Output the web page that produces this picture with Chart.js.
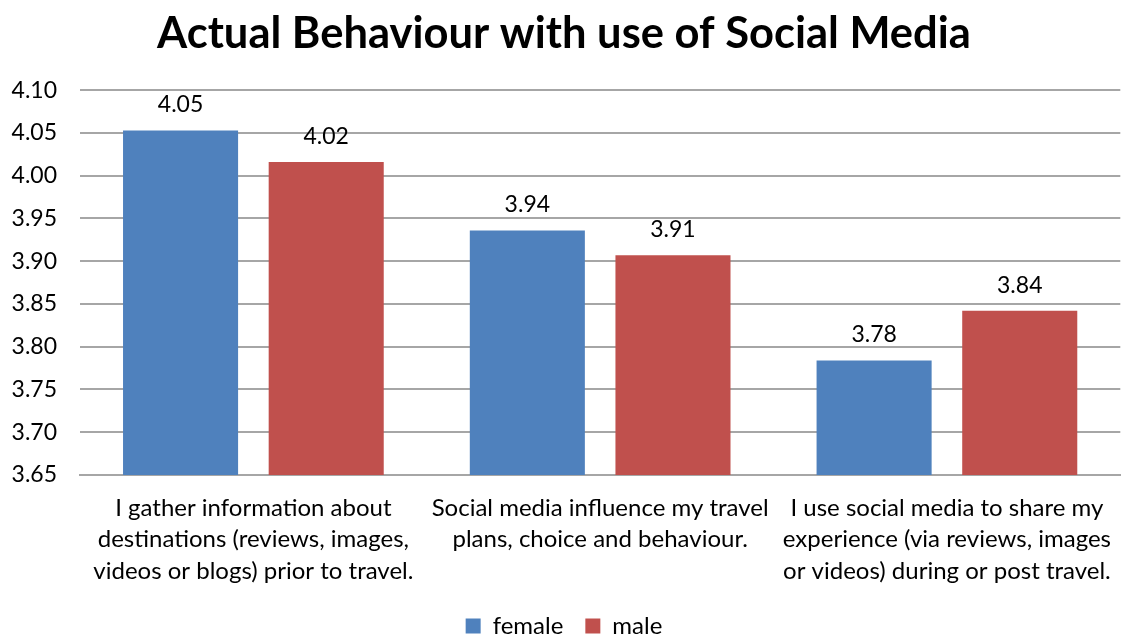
<!DOCTYPE html>
<html>
<head>
<meta charset="utf-8">
<script src="https://cdn.jsdelivr.net/npm/chart.js@4"></script>
<style>
  html, body { margin: 0; padding: 0; background: #fff; }
  #wrap { width: 1128px; height: 635px; }
</style>
</head>
<body>
<div id="wrap"><canvas id="behaviour-chart"></canvas></div>
<script>
// categories (split into lines for the x axis)
const categories = [
    ['I gather information about', 'destinations (reviews, images,', 'videos or blogs) prior to travel.'],
    ['Social media influence my travel', 'plans, choice and behaviour.'],
    ['I use social media to share my', 'experience (via reviews, images', 'or videos) during or post travel.']
];
const femaleValues = [4.053, 3.936, 3.784];
const maleValues = [4.016, 3.907, 3.842];
const yTicks = [3.65, 3.70, 3.75, 3.80, 3.85, 3.90, 3.95, 4.00, 4.05, 4.10];

const fontFamily = 'Lato, "Open Sans", sans-serif';

// draws the value above each bar
const valueLabels = {
    id: 'valueLabels',
    afterDatasetsDraw(chart) {
        const ctx = chart.ctx;
        ctx.save();
        ctx.font = '23px ' + fontFamily;
        ctx.fillStyle = '#000';
        ctx.textAlign = 'center';
        ctx.textBaseline = 'bottom';
        chart.data.datasets.forEach((ds, i) => {
            chart.getDatasetMeta(i).data.forEach((bar, j) => {
                ctx.fillText(ds.data[j].toFixed(2), bar.x, bar.y - 14);
            });
        });
        ctx.restore();
    }
};

const data = {
    labels: categories,
    datasets: [
        {
            label: 'female',
            data: femaleValues,
            backgroundColor: '#4F81BD',
            categoryPercentage: 0.84,
            barPercentage: 0.79
        },
        {
            label: 'male',
            data: maleValues,
            backgroundColor: '#C0504D',
            categoryPercentage: 0.84,
            barPercentage: 0.79
        }
    ]
};

const config = {
    type: 'bar',
    data,
    options: {
        responsive: true,
        maintainAspectRatio: false,
        animation: false,
        layout: { padding: { left: 0, right: 0, top: 0, bottom: -13 } },
        plugins: {
            title: {
                display: true,
                text: 'Actual Behaviour with use of Social Media',
                color: '#000',
                font: { family: fontFamily, size: 43.5, weight: 'bold' },
                padding: { top: 8, bottom: 30 }
            },
            legend: {
                position: 'bottom',
                labels: {
                    color: '#000',
                    font: { family: fontFamily, size: 24 },
                    boxWidth: 15,
                    boxHeight: 15,
                    padding: 22
                }
            },
            tooltip: { enabled: false }
        },
        scales: {
            x: {
                afterFit(axis) {
                    axis.height = 117;
                },
                grid: { display: false, drawTicks: false },
                border: { color: '#a6a6a6', width: 2 },
                ticks: {
                    color: '#000',
                    font: { family: fontFamily, size: 24, lineHeight: 1.32 },
                    padding: 17,
                    maxRotation: 0,
                    autoSkip: false
                }
            },
            y: {
                min: 3.65,
                max: 4.10,
                afterBuildTicks(axis) {
                    axis.ticks = yTicks.map(v => ({ value: v }));
                },
                afterFit(axis) {
                    axis.width = 80;
                },
                grid: { color: '#a6a6a6', lineWidth: 2, drawTicks: false },
                border: { display: false },
                ticks: {
                    color: '#000',
                    font: { family: fontFamily, size: 23 },
                    padding: 23,
                    callback: v => v.toFixed(2)
                }
            }
        }
    },
    plugins: [valueLabels]
};

const behaviourChart = new Chart(document.getElementById('behaviour-chart'), config);
</script>
</body>
</html>
